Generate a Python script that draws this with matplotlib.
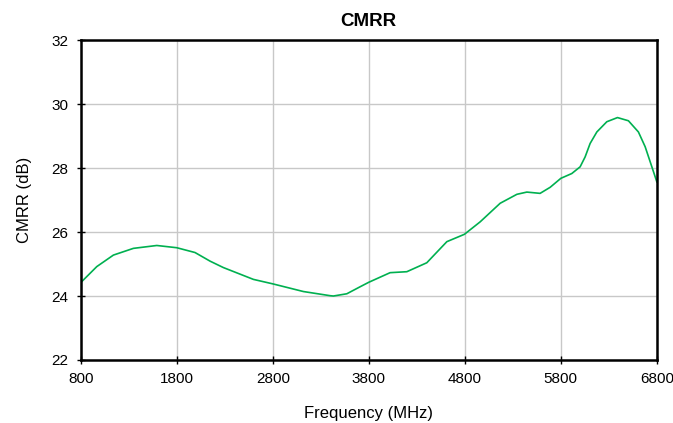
import matplotlib
matplotlib.use("Agg")
import matplotlib.pyplot as plt

freq_mhz = [800, 967, 1140, 1348, 1592, 1800, 1990, 2147, 2285, 2598, 2800, 3119,
            3397, 3431, 3571, 3710, 3800, 4022, 4196, 4404, 4613, 4796, 4960, 5168,
            5342, 5446, 5584, 5689, 5800, 5914, 6001, 6053, 6105, 6175, 6279, 6390,
            6504, 6608, 6678, 6748, 6800]
cmrr_db = [24.42, 24.92, 25.28, 25.49, 25.58, 25.51, 25.36, 25.09, 24.89, 24.52, 24.38, 24.14,
           24.01, 24.0, 24.07, 24.29, 24.43, 24.73, 24.76, 25.04, 25.70, 25.93, 26.32, 26.90,
           27.18, 27.25, 27.21, 27.40, 27.68, 27.83, 28.04, 28.35, 28.77, 29.13, 29.45, 29.58,
           29.48, 29.13, 28.67, 28.04, 27.57]
x_ticks = [800, 1800, 2800, 3800, 4800, 5800, 6800]
y_ticks = [22, 24, 26, 28, 30, 32]

plt.rcParams['font.family'] = ['Liberation Sans', 'DejaVu Sans']

fig = plt.figure(figsize=(6.73, 4.23), dpi=100)
ax = fig.add_axes([0.12, 0.149, 0.856, 0.756])
ax.plot(freq_mhz, cmrr_db, color='#00B050', lw=1.2)
ax.set_xlim(800, 6800)
ax.set_ylim(22, 32)
ax.set_xticks(x_ticks)
ax.set_yticks(y_ticks)
ax.grid(True, color='#C8C8C8', lw=1.0)
ax.set_axisbelow(True)
for s in ax.spines.values():
    s.set_linewidth(1.8)
    s.set_color('black')
ax.tick_params(direction='inout', length=6, width=1, labelsize=11, colors='black', pad=6)
ax.set_title('CMRR', fontsize=13.5, fontweight='bold', pad=10)
ax.set_xlabel('Frequency (MHz)', fontsize=12, labelpad=14)
ax.set_ylabel('CMRR (dB)', fontsize=12, labelpad=14)
fig.savefig('out.png', dpi=100)
